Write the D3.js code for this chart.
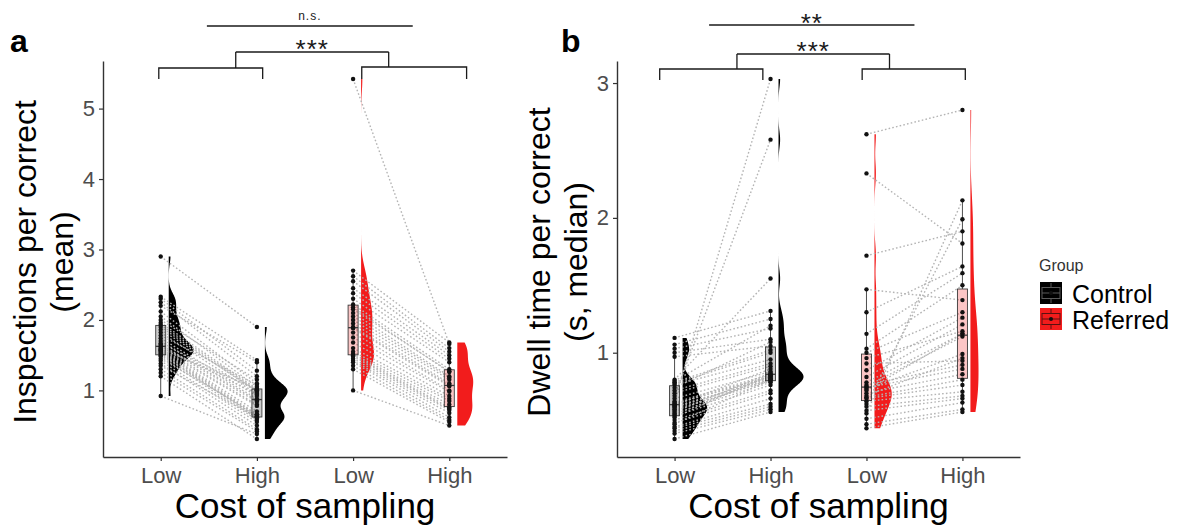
<!DOCTYPE html>
<html>
<head>
<meta charset="utf-8">
<script src="https://cdn.jsdelivr.net/npm/d3@7"></script>
<style>
  body { margin: 0; background: #fff; }
  svg { display: block; font-family: "Liberation Sans", Arial, sans-serif; }
</style>
</head>
<body>
<svg id="chart" width="1181" height="525"></svg>
<script>
// ---- data -------------------------------------------------------------
const conditions = ["Low", "High", "Low", "High"];
const groups = ["Control", "Referred"];

// Inspections per correct (mean); each index is one participant (Low, High)
const inspControlLow  = [2.90, 2.33, 2.30, 2.25, 2.20, 2.12, 2.05, 2.00, 1.96, 1.93, 1.90, 1.86, 1.82, 1.78, 1.74, 1.70, 1.67, 1.65, 1.63, 1.62, 1.60, 1.59, 1.58, 1.57, 1.56, 1.55, 1.53, 1.52, 1.50, 1.48, 1.45, 1.42, 1.38, 1.35, 1.30, 1.25, 1.20, 0.92];
const inspControlHigh = [1.90, 1.43, 1.28, 1.20, 1.40, 1.10, 1.05, 1.15, 1.02, 1.00, 0.98, 1.00, 0.95, 1.08, 0.92, 0.88, 1.00, 0.86, 0.84, 0.95, 0.80, 1.02, 0.78, 0.70, 0.66, 0.64, 0.62, 0.60, 0.63, 0.58, 0.66, 0.55, 0.50, 0.62, 0.45, 0.42, 0.31, 0.38];
const inspReferredLow  = [5.42, 2.70, 2.62, 2.55, 2.45, 2.38, 2.30, 2.22, 2.18, 2.15, 2.10, 2.05, 2.00, 1.95, 1.90, 1.88, 1.82, 1.75, 1.68, 1.60, 1.55, 1.52, 1.50, 1.48, 1.45, 1.42, 1.40, 1.35, 1.30, 1.00];
const inspReferredHigh = [1.66, 1.68, 1.60, 1.55, 1.50, 1.45, 1.40, 1.30, 1.26, 1.27, 1.20, 1.18, 1.15, 1.10, 1.08, 1.06, 1.00, 0.98, 0.92, 0.88, 0.85, 0.80, 0.76, 0.74, 0.72, 0.68, 0.62, 0.58, 0.55, 0.50];

// Dwell time per correct (s, median)
const dwellControlLow  = [1.11, 1.06, 1.03, 1.00, 0.97, 0.80, 0.79, 0.78, 0.77, 0.76, 0.74, 0.72, 0.70, 0.68, 0.66, 0.64, 0.63, 0.62, 0.62, 0.61, 0.60, 0.60, 0.59, 0.58, 0.57, 0.56, 0.55, 0.54, 0.53, 0.52, 0.50, 0.48, 0.47, 0.45, 0.44, 0.42, 0.40, 0.36];
const dwellControlHigh = [1.31, 1.25, 1.18, 1.10, 1.05, 1.55, 1.20, 1.02, 1.00, 0.95, 1.08, 0.92, 0.90, 2.58, 0.86, 3.03, 0.84, 0.83, 0.82, 0.88, 0.81, 0.80, 0.82, 0.79, 0.80, 0.85, 0.78, 0.83, 0.76, 0.84, 0.72, 0.70, 0.80, 0.66, 0.62, 0.60, 0.58, 0.56];
const dwellReferredLow  = [2.62, 2.33, 1.72, 1.47, 1.30, 1.14, 1.03, 1.00, 0.96, 0.92, 0.87, 0.82, 0.78, 0.76, 0.75, 0.74, 0.73, 0.72, 0.70, 0.68, 0.67, 0.66, 0.64, 0.62, 0.60, 0.57, 0.55, 0.51, 0.47, 0.44];
const dwellReferredHigh = [2.80, 1.81, 1.90, 1.39, 1.64, 1.59, 1.50, 1.30, 1.16, 0.94, 1.26, 1.21, 1.14, 0.91, 1.12, 0.88, 0.99, 1.14, 0.84, 0.96, 0.80, 0.76, 0.71, 1.99, 0.68, 0.66, 2.13, 0.63, 0.58, 0.56];

const yTicksA = [1, 2, 3, 4, 5];
const yTicksB = [1, 2, 3];

// ---- styling ----------------------------------------------------------
const groupColor = { Control: "#000000", Referred: "#f21c1c" };
const boxFillAlpha = { Control: 0.2, Referred: 0.25 };
const bwAdjust = 0.75;

// ---- panel layout -----------------------------------------------------
const panels = [
  {
    label: "a", labelX: 10,
    left: 103, right: 507, top: 61, bottom: 457,
    titleLines: ["Inspections per correct", "(mean)"], titleX: [36, 73],
    pairs: [
      { group: "Control",  low: inspControlLow,  high: inspControlHigh, at: [0, 1] },
      { group: "Referred", low: inspReferredLow, high: inspReferredHigh, at: [2, 3] }
    ],
    yTicks: yTicksA,
    brackets: [
      { x1: 0.98, x2: 2.06, stem: 1.78, y: 68 },
      { x1: 3.09, x2: 4.18, stem: 3.37, y: 67 }
    ],
    legY: 79, joinY: 52, joinText: "***", joinTextY: 58,
    topBar: { x1: 1.48, x2: 3.62, y: 26, text: "n.s.", size: 12, textY: 20 }
  },
  {
    label: "b", labelX: 561,
    left: 617, right: 1020, top: 61, bottom: 457,
    titleLines: ["Dwell time per correct", "(s, median)"], titleX: [550, 587],
    pairs: [
      { group: "Control",  low: dwellControlLow,  high: dwellControlHigh, at: [0, 1] },
      { group: "Referred", low: dwellReferredLow, high: dwellReferredHigh, at: [2, 3] }
    ],
    yTicks: yTicksB,
    brackets: [
      { x1: 0.845, x2: 1.92, stem: 1.65, y: 69 },
      { x1: 2.955, x2: 4.03, stem: 3.24, y: 69 }
    ],
    legY: 80, joinY: 54, joinText: "***", joinTextY: 60,
    topBar: { x1: 1.36, x2: 3.50, y: 25, text: "**", size: 26, textY: 32 }
  }
];

// ---- helpers ----------------------------------------------------------
function boxStats(values) {
  const s = values.slice().sort(d3.ascending);
  const q1 = d3.quantileSorted(s, 0.25), med = d3.quantileSorted(s, 0.5), q3 = d3.quantileSorted(s, 0.75);
  const iqr = q3 - q1;
  const lo = d3.min(s.filter(v => v >= q1 - 1.5 * iqr));
  const hi = d3.max(s.filter(v => v <= q3 + 1.5 * iqr));
  return { q1, med, q3, lo, hi };
}
function bandwidth(values) {
  const s = values.slice().sort(d3.ascending);
  const iqr = d3.quantileSorted(s, 0.75) - d3.quantileSorted(s, 0.25);
  let spread = Math.min(d3.deviation(s), iqr / 1.34);
  if (!(spread > 0)) spread = d3.deviation(s) || 1;
  return bwAdjust * 0.9 * spread * Math.pow(s.length, -0.2);
}
function kde(values) {
  const h = bandwidth(values);
  const [mn, mx] = d3.extent(values);
  const n = 500, out = [];
  for (let i = 0; i <= n; i++) {
    const v = mn + (mx - mn) * i / n;
    let sum = 0;
    for (const x of values) { const z = (v - x) / h; sum += Math.exp(-0.5 * z * z); }
    out.push({ v, d: sum / (values.length * h * Math.sqrt(2 * Math.PI)) });
  }
  return out;
}

const svg = d3.select("#chart");

panels.forEach(p => {
  const g = svg.append("g");
  const keys = ["0", "1", "2", "3"];
  const x = d3.scalePoint().domain(keys).range([p.left, p.right]).padding(0.6);
  const pos = i => x("0") + (i - 1) * x.step();

  const all = p.pairs.flatMap(s => s.low.concat(s.high));
  const [mn, mx] = d3.extent(all);
  const pad = (mx - mn) * 0.05;
  const y = d3.scaleLinear().domain([mn - pad, mx + pad]).range([p.bottom, p.top]);

  // one series per (group, condition)
  const series = [];
  p.pairs.forEach(s => {
    series.push({ group: s.group, values: s.low, key: keys[s.at[0]] });
    series.push({ group: s.group, values: s.high, key: keys[s.at[1]] });
  });
  series.forEach(s => { s.dens = kde(s.values); s.box = boxStats(s.values); });
  const maxD = d3.max(series, s => d3.max(s.dens, d => d.d));
  const w = d3.scaleLinear().domain([0, maxD]).range([0, 25]);

  // half-violin densities
  series.forEach(s => {
    const x0 = x(s.key) + 8;
    g.append("path")
      .datum(s.dens)
      .attr("d", d3.area().y(d => y(d.v)).x0(x0).x1(d => x0 + w(d.d)))
      .attr("fill", groupColor[s.group]);
  });

  // paired participant lines
  p.pairs.forEach(s => {
    g.append("g").selectAll("line").data(d3.range(s.low.length)).join("line")
      .attr("x1", x(keys[s.at[0]])).attr("x2", x(keys[s.at[1]]))
      .attr("y1", i => y(s.low[i])).attr("y2", i => y(s.high[i]))
      .attr("stroke", "#b4b4b4").attr("stroke-width", 1.4)
      .attr("stroke-dasharray", "1.6,2.2");
  });

  // boxplots
  series.forEach(s => {
    const cx = x(s.key), bw = 10, b = s.box;
    const bg = g.append("g").attr("stroke", "#3a3a3a").attr("stroke-width", 0.9);
    bg.append("line").attr("x1", cx).attr("x2", cx).attr("y1", y(b.hi)).attr("y2", y(b.q3));
    bg.append("line").attr("x1", cx).attr("x2", cx).attr("y1", y(b.q1)).attr("y2", y(b.lo));
    bg.append("rect").attr("x", cx - bw / 2).attr("width", bw)
      .attr("y", y(b.q3)).attr("height", y(b.q1) - y(b.q3))
      .attr("fill", groupColor[s.group]).attr("fill-opacity", boxFillAlpha[s.group]);
    bg.append("line").attr("x1", cx - bw / 2).attr("x2", cx + bw / 2)
      .attr("y1", y(b.med)).attr("y2", y(b.med)).attr("stroke-width", 1.3);
  });

  // points
  series.forEach(s => {
    g.append("g").selectAll("circle").data(s.values).join("circle")
      .attr("cx", x(s.key)).attr("cy", d => y(d)).attr("r", 2.2).attr("fill", "#111");
  });

  // axes
  const yAxis = g.append("g").attr("transform", `translate(${p.left},0)`)
    .call(d3.axisLeft(y).tickValues(p.yTicks).tickFormat(d3.format("d")).tickSize(4).tickSizeOuter(0).tickPadding(4));
  const xAxis = g.append("g").attr("transform", `translate(0,${p.bottom})`)
    .call(d3.axisBottom(x).tickFormat(k => conditions[+k]).tickSize(4).tickSizeOuter(0).tickPadding(6));
  [yAxis, xAxis].forEach(a => {
    a.select(".domain").attr("stroke", "#333").attr("stroke-width", 1.4);
    a.selectAll(".tick line").attr("stroke", "#333").attr("stroke-width", 1.2);
    a.selectAll(".tick text").attr("fill", "#4d4d4d").attr("font-size", 22)
      .attr("font-family", "Liberation Sans, Arial, sans-serif");
  });

  // titles
  g.append("text").attr("x", (p.left + p.right) / 2).attr("y", 518)
    .attr("text-anchor", "middle").attr("font-size", 35).attr("fill", "#000")
    .text("Cost of sampling");
  p.titleLines.forEach((t, i) => {
    g.append("text").attr("transform", `translate(${p.titleX[i]},262) rotate(-90)`)
      .attr("text-anchor", "middle").attr("font-size", 32).attr("fill", "#000").text(t);
  });
  g.append("text").attr("x", p.labelX).attr("y", 52).attr("font-size", 32)
    .attr("font-weight", "bold").attr("fill", "#000").text(p.label);

  // significance brackets
  const br = g.append("g").attr("stroke", "#1a1a1a").attr("stroke-width", 1.3).attr("fill", "none");
  p.brackets.forEach(b => {
    br.append("path").attr("d",
      `M${pos(b.x1)},${p.legY}V${b.y}H${pos(b.x2)}V${p.legY}M${pos(b.stem)},${b.y}V${p.joinY}`);
  });
  br.append("line").attr("x1", pos(p.brackets[0].stem)).attr("x2", pos(p.brackets[1].stem))
    .attr("y1", p.joinY).attr("y2", p.joinY);
  const midJoin = (pos(p.brackets[0].stem) + pos(p.brackets[1].stem)) / 2;
  g.append("text").attr("x", midJoin).attr("y", p.joinTextY).attr("text-anchor", "middle")
    .attr("font-size", 26).attr("letter-spacing", 1).attr("fill", "#1a1a1a").text(p.joinText);
  br.append("line").attr("x1", pos(p.topBar.x1)).attr("x2", pos(p.topBar.x2))
    .attr("y1", p.topBar.y).attr("y2", p.topBar.y);
  g.append("text").attr("x", (pos(p.topBar.x1) + pos(p.topBar.x2)) / 2).attr("y", p.topBar.textY)
    .attr("text-anchor", "middle").attr("font-size", p.topBar.size).attr("letter-spacing", 1)
    .attr("fill", "#1a1a1a").text(p.topBar.text);
});

// ---- legend -----------------------------------------------------------
const leg = svg.append("g").attr("transform", "translate(1040,0)");
leg.append("text").attr("x", -1).attr("y", 271).attr("font-size", 16).attr("fill", "#333").text("Group");
groups.forEach((grp, i) => {
  const ky = 282 + i * 26;
  const k = leg.append("g").attr("transform", `translate(0,${ky})`);
  k.append("rect").attr("width", 22).attr("height", 22).attr("fill", groupColor[grp]);
  const line = grp === "Control" ? "#5a5a5a" : "#5a1010";
  k.append("rect").attr("x", 2).attr("y", 5.5).attr("width", 18).attr("height", 11)
    .attr("fill", "none").attr("stroke", line).attr("stroke-width", 1);
  k.append("line").attr("x1", 2).attr("x2", 20).attr("y1", 11).attr("y2", 11).attr("stroke", line).attr("stroke-width", 1);
  k.append("line").attr("x1", 11).attr("x2", 11).attr("y1", 1).attr("y2", 5.5).attr("stroke", line);
  k.append("line").attr("x1", 11).attr("x2", 11).attr("y1", 16.5).attr("y2", 21).attr("stroke", line);
  k.append("circle").attr("cx", 11).attr("cy", 11).attr("r", 2).attr("fill", "#111");
  leg.append("text").attr("x", 32).attr("y", ky + 21).attr("font-size", 25).attr("fill", "#000").text(grp);
});
</script>
</body>
</html>
